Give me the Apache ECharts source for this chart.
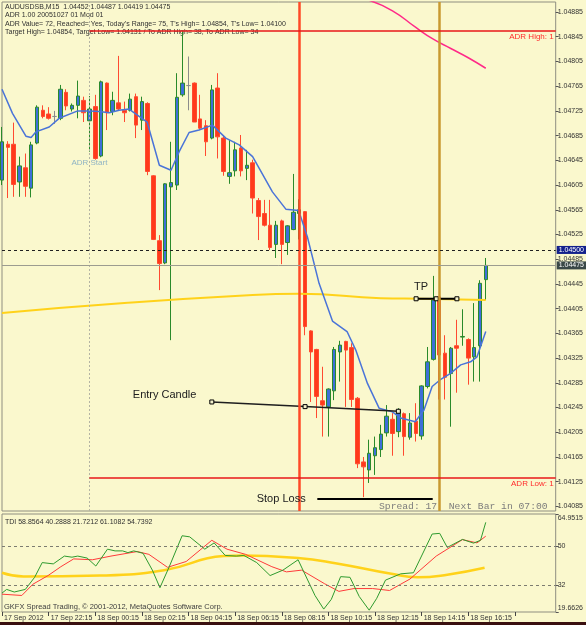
<!DOCTYPE html>
<html>
<head>
<meta charset="utf-8">
<script src="https://cdn.jsdelivr.net/npm/echarts@6/dist/echarts.min.js"></script>
<style>
  html, body { margin: 0; padding: 0; background: #FAF8CD; }
  #chart { width: 586px; height: 625px; }
</style>
</head>
<body>
<div id="chart"></div>
<script>
// bar slots on the time scale (84 bars drawn + chart shift space)
const slotCount = 96;
const bars = Array.from({ length: slotCount }, (_, i) => i);
const timeLabels = ['17 Sep 2012', '17 Sep 22:15', '18 Sep 00:15', '18 Sep 02:15', '18 Sep 04:15',
  '18 Sep 06:15', '18 Sep 08:15', '18 Sep 10:15', '18 Sep 12:15', '18 Sep 14:15', '18 Sep 16:15'];

const priceTicks = [1.04085, 1.04125, 1.04165, 1.04205, 1.04245, 1.04285, 1.04325, 1.04365, 1.04405,
  1.04445, 1.04485, 1.04525, 1.04565, 1.04605, 1.04645, 1.04685, 1.04725, 1.04765, 1.04805, 1.04845, 1.04885];
const tdiTicks = [19.6626, 32, 50, 64.9515];

// AUDUSDSB M15 candles
const opens = [1.04613, 1.04671, 1.04671, 1.04610, 1.04633, 1.04600, 1.04673, 1.04726, 1.04720, 1.04716,
  1.04713, 1.04755, 1.04728, 1.04734, 1.04742, 1.04709, 1.04732, 1.04652, 1.04770, 1.04724,
  1.04738, 1.04726, 1.04726, 1.04748, 1.04710, 1.04737, 1.04620, 1.04515, 1.04479, 1.04602,
  1.04605, 1.04751, 1.04766, 1.04770, 1.04712, 1.04701, 1.04681, 1.04762, 1.04681, 1.04619,
  1.04628, 1.04665, 1.04632, 1.04641, 1.04580, 1.04559, 1.04540, 1.04509, 1.04547, 1.04512,
  1.04533, 1.04559, 1.04562, 1.04369, 1.04339, 1.04256, 1.04246, 1.04272, 1.04335, 1.04352,
  1.04342, 1.04260, 1.04157, 1.04144, 1.04167, 1.04177, 1.04204, 1.04226, 1.04206, 1.04235,
  1.04197, 1.04223, 1.04199, 1.04279, 1.04323, 1.04424, 1.04333, 1.04300, 1.04345, 1.04359,
  1.04355, 1.04327, 1.04345, 1.04452];
const closes = [1.04675, 1.04666, 1.04606, 1.04636, 1.04603, 1.04670, 1.04731, 1.04716, 1.04713, 1.04716,
  1.04760, 1.04733, 1.04734, 1.04749, 1.04722, 1.04728, 1.04648, 1.04772, 1.04722, 1.04742,
  1.04728, 1.04722, 1.04744, 1.04702, 1.04740, 1.04627, 1.04517, 1.04478, 1.04607, 1.04609,
  1.04747, 1.04770, 1.04766, 1.04707, 1.04697, 1.04675, 1.04759, 1.04683, 1.04627, 1.04625,
  1.04662, 1.04628, 1.04637, 1.04584, 1.04554, 1.04540, 1.04504, 1.04540, 1.04509, 1.04539,
  1.04561, 1.04565, 1.04376, 1.04335, 1.04263, 1.04249, 1.04275, 1.04339, 1.04346, 1.04338,
  1.04258, 1.04154, 1.04149, 1.04171, 1.04180, 1.04202, 1.04231, 1.04203, 1.04240, 1.04198,
  1.04220, 1.04203, 1.04280, 1.04319, 1.04419, 1.04330, 1.04294, 1.04341, 1.04341, 1.04360,
  1.04325, 1.04342, 1.04446, 1.04475];
const lows = [1.04605, 1.04584, 1.04586, 1.04586, 1.04586, 1.04585, 1.04671, 1.04713, 1.04711, 1.04704,
  1.04710, 1.04726, 1.04724, 1.04713, 1.04707, 1.04659, 1.04646, 1.04650, 1.04694, 1.04718,
  1.04726, 1.04707, 1.04724, 1.04681, 1.04694, 1.04621, 1.04516, 1.04435, 1.04477, 1.04354,
  1.04597, 1.04748, 1.04726, 1.04707, 1.04694, 1.04652, 1.04679, 1.04648, 1.04620, 1.04607,
  1.04619, 1.04619, 1.04613, 1.04559, 1.04516, 1.04538, 1.04500, 1.04487, 1.04477, 1.04492,
  1.04532, 1.04517, 1.04362, 1.04254, 1.04228, 1.04198, 1.04198, 1.04257, 1.04287, 1.04246,
  1.04246, 1.04147, 1.04100, 1.04123, 1.04136, 1.04165, 1.04198, 1.04167, 1.04197, 1.04167,
  1.04193, 1.04190, 1.04193, 1.04276, 1.04321, 1.04258, 1.04258, 1.04214, 1.04269, 1.04345,
  1.04282, 1.04287, 1.04287, 1.04419];
const highs = [1.04699, 1.04676, 1.04706, 1.04651, 1.04656, 1.04675, 1.04734, 1.04734, 1.04731, 1.04725,
  1.04767, 1.04760, 1.04737, 1.04774, 1.04748, 1.04749, 1.04751, 1.04774, 1.04771, 1.04756,
  1.04814, 1.04740, 1.04753, 1.04753, 1.04748, 1.04739, 1.04621, 1.04524, 1.04608, 1.04675,
  1.04786, 1.04854, 1.04813, 1.04771, 1.04751, 1.04710, 1.04767, 1.04786, 1.04686, 1.04678,
  1.04675, 1.04686, 1.04662, 1.04646, 1.04584, 1.04581, 1.04581, 1.04547, 1.04549, 1.04540,
  1.04623, 1.04582, 1.04563, 1.04370, 1.04340, 1.04311, 1.04276, 1.04343, 1.04353, 1.04353,
  1.04349, 1.04262, 1.04165, 1.04193, 1.04198, 1.04217, 1.04249, 1.04236, 1.04244, 1.04237,
  1.04236, 1.04252, 1.04281, 1.04343, 1.04458, 1.04425, 1.04362, 1.04343, 1.04387, 1.04404,
  1.04357, 1.04414, 1.04451, 1.04487];

// moving averages, [bar, price]
const maFast = [[0, 1.04760], [1.8, 1.04721], [4.1, 1.04684], [5.0, 1.04682], [5.8, 1.04691], [8.1, 1.04699],
  [9.8, 1.04713], [13.0, 1.04725], [15.0, 1.04725], [16.7, 1.04724], [18.4, 1.04722], [20.1, 1.04726],
  [21.8, 1.04728], [24.9, 1.04707], [27.0, 1.04637], [29.0, 1.04629], [30.4, 1.04659], [32.1, 1.04690],
  [33.8, 1.04694], [36.1, 1.04702], [38.4, 1.04681], [40.7, 1.04670], [43.0, 1.04651], [46.4, 1.04594],
  [48.7, 1.04566], [50.9, 1.04564], [52.4, 1.04521], [54.4, 1.04446], [56.7, 1.04385], [59.2, 1.04368],
  [60.7, 1.04338], [62.7, 1.04284], [64.7, 1.04244], [67.0, 1.04238], [68.4, 1.04228], [70.9, 1.04222],
  [72.4, 1.04241], [73.8, 1.04279], [75.2, 1.04290], [76.9, 1.04300], [78.7, 1.04314], [80.4, 1.04319],
  [81.5, 1.04327], [83.0, 1.04368]];
const maSlow = [[0, 1.04398], [21, 1.04414], [43, 1.04427], [51, 1.04429], [65, 1.04422], [72, 1.04421], [83, 1.04419]];
const maDaily = [[63, 1.04904], [67, 1.04887], [71, 1.04860], [74, 1.04841], [77, 1.04826], [80, 1.04811], [83, 1.04794]];

// ADR levels and chart objects
const adrStartBar = 15;
const adrHigh = 1.04854;
const adrLow = 1.04131;
const pendingLevel = 1.04500;
const bidPrice = 1.04475;
const redLineBar = 51;
const goldLineBar = 75;
const entryLine = [[36, 1.04254], [52, 1.042465], [68, 1.04239]];
const tpLine = [[71.05, 1.04421], [74.5, 1.04421], [78.05, 1.04421]];
const stopLine = [[54.1, 1.04097], [73.9, 1.04097]];
const noteTexts = ['Entry Candle', 'TP', 'Stop Loss', 'ADR Start'];
const notePoints = [[27.9, 1.04265], [71.9, 1.04440], [47.9, 1.04097], [15, 1.04641]];

// TDI, [bar, value]
const tdiPrice = [[0, 28.4], [0.8, 30.1], [2.1, 28.9], [4.0, 30.1], [5.6, 35.7], [6.9, 42.5], [8.8, 41.9],
  [10.7, 45.5], [12.0, 45.0], [13.0, 45.5], [14.6, 44.6], [16.1, 40.9], [18.1, 48.7], [19.4, 47.9],
  [20.7, 47.9], [21.6, 47.1], [22.6, 47.9], [24.2, 46.8], [25.8, 39.0], [27.1, 30.9], [28.7, 40.6],
  [30.9, 54.9], [32.2, 54.4], [34.8, 48.7], [36.4, 51.6], [38.3, 45.8], [40.2, 45.5], [41.5, 45.8],
  [43.7, 42.5], [46.0, 36.5], [48.2, 39.0], [50.8, 43.8], [53.7, 27.3], [55.2, 21.0], [56.5, 25.5],
  [58.1, 36.0], [59.7, 35.7], [61.3, 26.8], [63.0, 20.5], [64.3, 26.0], [65.8, 34.4], [68.4, 37.3],
  [70.6, 37.8], [73.8, 55.7], [75.1, 56.0], [76.4, 49.5], [79.0, 53.2], [80.9, 51.5], [82.1, 52.8], [83.0, 61.1]];
const tdiSignal = [[0, 27.9], [3.4, 27.3], [5.3, 32.5], [7.9, 36.5], [10.1, 40.6], [12.3, 44.2], [15.5, 43.8],
  [18.7, 45.5], [23.2, 47.6], [25.2, 46.3], [28.4, 40.3], [31.6, 43.0], [36.0, 52.8], [38.6, 48.7],
  [41.8, 46.3], [46.3, 40.6], [48.8, 38.2], [51.4, 39.0], [55.3, 32.8], [57.8, 29.2], [60.4, 30.5],
  [63.6, 30.5], [66.5, 29.6], [68.4, 32.5], [70.0, 34.9], [74.5, 45.5], [79.0, 53.1], [81.5, 51.6], [83.0, 54.7]];
const tdiBase = [[0, 37.8], [3.7, 36.1], [16.8, 36.5], [27.8, 39.0], [38.0, 45.5], [41.2, 45.8], [50.8, 44.6],
  [57.2, 42.2], [66.8, 37.3], [71.3, 35.7], [76.4, 36.9], [82.8, 40.1]];
const tdiLevels = [50, 32];

const headerLines = [
  'AUDUSDSB,M15  1.04452 1.04487 1.04419 1.04475',
  'ADR 1.00 20051027 01 Mod 01',
  "ADR Value= 72, Reached= Yes, Today's Range= 75, T's High= 1.04854, T's Low= 1.04100",
  'Target High= 1.04854, Target Low= 1.04131 / To ADR High= 38, To ADR Low= 34'
];

const candleData = opens.map((o, i) => [o, closes[i], lows[i], highs[i]]);
const font = 'Liberation Sans';
const noLine = { symbol: ['none', 'none'], silent: true, animation: false };

const chart = echarts.init(document.getElementById('chart'));
chart.setOption({
  animation: false,
  backgroundColor: '#FAF8CD',
  textStyle: { fontFamily: font },
  grid: [
    { left: 2, right: 29, top: 2, height: 509, show: true, borderColor: '#8e8e80', borderWidth: 1 },
    { left: 2, right: 29, top: 514, height: 98, show: true, borderColor: '#8e8e80', borderWidth: 1 }
  ],
  xAxis: [
    { type: 'category', gridIndex: 0, data: bars, boundaryGap: false, show: false },
    { type: 'value', gridIndex: 0, min: 0, max: slotCount - 1, show: false },
    {
      type: 'category', gridIndex: 1, data: bars, boundaryGap: false,
      axisLine: { show: false, onZero: false },
      splitLine: { show: false },
      axisTick: { show: true, interval: 7, length: 4, lineStyle: { color: '#444' } },
      axisLabel: {
        interval: 7, align: 'left', margin: 3, padding: [0, 0, 0, 2],
        fontSize: 7, color: '#333',
        formatter: (v, idx) => timeLabels[idx / 8] || ''
      }
    },
    { type: 'value', gridIndex: 1, min: 0, max: slotCount - 1, show: false }
  ],
  yAxis: [
    {
      type: 'value', gridIndex: 0, position: 'right', min: 1.040776, max: 1.049012,
      axisLine: { show: false, onZero: false }, splitLine: { show: false },
      axisTick: { show: true, length: 3, customValues: priceTicks, lineStyle: { color: '#555' } },
      axisLabel: { customValues: priceTicks, formatter: v => v.toFixed(5), fontSize: 7, color: '#333', margin: 2 }
    },
    {
      type: 'value', gridIndex: 1, position: 'right', min: tdiTicks[0], max: tdiTicks[3],
      axisLine: { show: false, onZero: false }, splitLine: { show: false },
      axisTick: { show: true, length: 3, customValues: tdiTicks, lineStyle: { color: '#555' } },
      axisLabel: {
        customValues: tdiTicks, fontSize: 7, color: '#333', margin: 2,
        formatter: v => v === tdiTicks[3] ? '{t|' + v + '}' : v === tdiTicks[0] ? '{b|' + v + '}' : String(v),
        rich: { t: { padding: [9, 0, 0, 0], fontSize: 7 }, b: { padding: [0, 0, 8, 0], fontSize: 7 } }
      }
    }
  ],
  series: [
    {
      type: 'candlestick', xAxisIndex: 0, yAxisIndex: 0, barWidth: 4,
      data: candleData,
      itemStyle: {
        color: '#3d6fd8', color0: '#ff3a1a',
        borderColor: '#2a8a2a', borderColor0: '#ff4a30', borderColorDoji: '#8c8c8c', borderWidth: 1
      }
    },
    {
      type: 'line', xAxisIndex: 1, yAxisIndex: 0, data: maSlow, smooth: true, showSymbol: false,
      lineStyle: { color: '#ffd21a', width: 2 }
    },
    {
      type: 'line', xAxisIndex: 1, yAxisIndex: 0, data: maDaily, smooth: true, showSymbol: false,
      lineStyle: { color: '#ff2a88', width: 1.5 }
    },
    {
      type: 'line', xAxisIndex: 1, yAxisIndex: 0, data: maFast, showSymbol: false,
      lineStyle: { color: '#4a74d8', width: 1.5 }
    },
    {
      // levels, vertical markers and text notes
      type: 'line', xAxisIndex: 1, yAxisIndex: 0, data: [],
      markLine: Object.assign({}, noLine, {
        label: { show: false },
        data: [
          { xAxis: adrStartBar, lineStyle: { color: '#b4b4a4', width: 1, type: [2, 2] } },
          { xAxis: redLineBar, lineStyle: { color: '#ff4a26', width: 2.5, type: 'solid' } },
          { xAxis: goldLineBar, lineStyle: { color: '#c89a30', width: 2.5, type: 'solid' } },
          [{ coord: [0, pendingLevel], lineStyle: { color: '#202020', width: 1, type: [3, 3] },
             label: { show: true, position: 'end', distance: 1, formatter: '1.04500', color: '#fff',
               backgroundColor: '#12208c', padding: [1, 2, 0, 2], fontSize: 7 } },
           { coord: [slotCount - 1, pendingLevel] }],
          [{ coord: [0, bidPrice], lineStyle: { color: '#9c9c90', width: 1, type: 'solid' },
             label: { show: true, position: 'end', distance: 1, formatter: '1.04475', color: '#fff',
               backgroundColor: '#3a4848', padding: [1, 2, 0, 2], fontSize: 7 } },
           { coord: [slotCount - 1, bidPrice] }],
          [{ coord: [adrStartBar, adrHigh], lineStyle: { color: '#e81818', width: 1.5, type: 'solid' },
             label: { show: true, position: 'insideEndBottom', distance: 2, formatter: 'ADR High: 1',
               color: '#ff2a2a', fontSize: 8 } },
           { coord: [slotCount - 1, adrHigh] }],
          [{ coord: [adrStartBar, adrLow], lineStyle: { color: '#e81818', width: 1.5, type: 'solid' },
             label: { show: true, position: 'insideEndBottom', distance: 2, formatter: 'ADR Low: 1',
               color: '#ff2a2a', fontSize: 8 } },
           { coord: [slotCount - 1, adrLow] }]
        ]
      }),
      markPoint: {
        symbol: 'circle', symbolSize: 0, silent: true,
        data: notePoints.map((p, i) => ({
          coord: p,
          label: {
            show: true, position: 'inside', formatter: noteTexts[i],
            color: i === 3 ? '#8fb4c4' : '#202020', fontSize: i === 3 ? 8 : 11
          }
        }))
      }
    },
    {
      type: 'line', xAxisIndex: 1, yAxisIndex: 0, data: entryLine, symbol: 'rect', symbolSize: 4,
      showAllSymbol: true, lineStyle: { color: '#1e1e1e', width: 1.5 },
      itemStyle: { color: '#f4f2cc', borderColor: '#000', borderWidth: 1 }
    },
    {
      type: 'line', xAxisIndex: 1, yAxisIndex: 0, data: tpLine, symbol: 'rect', symbolSize: 4,
      showAllSymbol: true, lineStyle: { color: '#000', width: 2 },
      itemStyle: { color: '#f4f2cc', borderColor: '#000', borderWidth: 1 }
    },
    {
      type: 'line', xAxisIndex: 1, yAxisIndex: 0, data: stopLine, showSymbol: false,
      lineStyle: { color: '#000', width: 2 }
    },
    {
      type: 'line', xAxisIndex: 3, yAxisIndex: 1, data: tdiBase, smooth: true, showSymbol: false,
      lineStyle: { color: '#ffd21a', width: 2.5 },
      markLine: Object.assign({}, noLine, {
        label: { show: false },
        lineStyle: { color: '#7c7c70', width: 1, type: [3, 3] },
        data: tdiLevels.map(v => ({ yAxis: v }))
      })
    },
    {
      type: 'line', xAxisIndex: 3, yAxisIndex: 1, data: tdiSignal, showSymbol: false,
      lineStyle: { color: '#ff3a3a', width: 1 }
    },
    {
      type: 'line', xAxisIndex: 3, yAxisIndex: 1, data: tdiPrice, showSymbol: false,
      lineStyle: { color: '#2e9a2e', width: 1 }
    }
  ],
  graphic: [
    ...headerLines.map((t, i) => ({
      type: 'text', x: 5, y: [7, 15, 24, 32][i],
      style: { text: t, fill: '#303030', font: '7px ' + font, verticalAlign: 'middle' }
    })),
    { type: 'text', x: 5, y: 522, style: { text: 'TDI 58.8564 40.2888 21.7212 61.1082 54.7392',
      fill: '#303030', font: '7px ' + font, verticalAlign: 'middle' } },
    { type: 'text', x: 4, y: 607, style: { text: 'GKFX Spread Trading, © 2001-2012, MetaQuotes Software Corp.',
      fill: '#404040', font: '7.5px ' + font, verticalAlign: 'middle' } },
    { type: 'text', x: 379, y: 506, z: 10, style: { text: 'Spread: 17  Next Bar in 07:00',
      fill: '#7c7c7c', font: '9.7px Liberation Mono', verticalAlign: 'middle' } },
    { type: 'rect', shape: { x: 0, y: 622, width: 586, height: 3 }, style: { fill: '#3a1010' } }
  ]
});
</script>
</body>
</html>
